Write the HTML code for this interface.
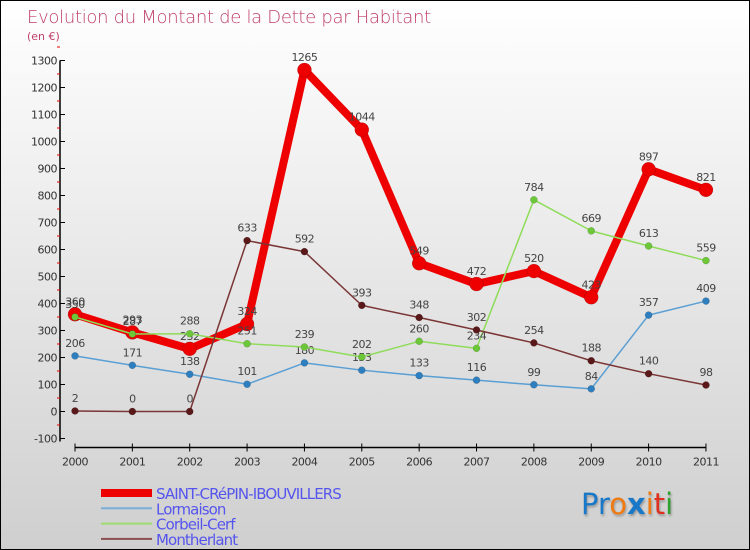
<!DOCTYPE html>
<html><head><meta charset="utf-8"><style>
body{margin:0;}
#wrap{width:748px;height:548px;border:1px solid #000;background:linear-gradient(#ffffff,#cfcfcf);position:relative;font-family:"DejaVu Sans","Liberation Sans",sans-serif;overflow:hidden}
</style></head><body>
<div id="wrap">
<svg id="chart" width="748" height="548" style="position:absolute;left:0;top:0">
<text x="26" y="22" font-size="18" fill="#c0406a" font-family="DejaVu Sans, sans-serif" font-weight="200" letter-spacing="-0.3">Evolution du Montant de la Dette par Habitant</text>
<text x="26" y="39" font-size="11" fill="#c0406a">(en €)</text>
<g id="axes"></g><g id="series"></g>
</svg>
<div style="position:absolute;left:580px;top:486px;font-size:29px;font-family:'DejaVu Sans',sans-serif;text-shadow:1px 2px 2px #999"><span style="color:#1a78c8">Pr</span><span style="color:#f07a10">o</span><span style="color:#1a78c8;font-weight:bold">x</span><span style="color:#f07a10">i</span><span style="color:#e03020">t</span><span style="color:#30a030">i</span></div>
</div>
<script>
const years=["2000","2001","2002","2003","2004","2005","2006","2007","2008","2009","2010","2011"];
const yTicks=[-100,0,100,200,300,400,500,600,700,800,900,1000,1100,1200,1300];
const seriesNames=["SAINT-CRéPIN-IBOUVILLERS","Lormaison","Corbeil-Cerf","Montherlant"];
const saintCrepin=[360,293,232,324,1265,1044,549,472,520,423,897,821];
const lormaison=[206,171,138,101,180,153,133,116,99,84,357,409];
const corbeil=[350,287,288,251,239,202,260,234,784,669,613,559];
const montherlant=[2,0,0,633,592,393,348,302,254,188,140,98];
const NS="http://www.w3.org/2000/svg";
const yS=v=>410.5-v*0.27;
const xS=i=>74+i*57.36;
function mk(tag,attrs,parent){const e=document.createElementNS(NS,tag);for(const k in attrs)e.setAttribute(k,attrs[k]);parent.appendChild(e);return e;}
const ax=document.getElementById('axes');
let l=mk('line',{x1:59,y1:yS(1300),x2:59,y2:yS(-100)+3,stroke:'#000','stroke-width':1.5},ax);


l=mk('line',{x1:xS(0),y1:yS(-100)+9,x2:xS(11),y2:yS(-100)+9,stroke:'#000','stroke-width':1.5},ax);


yTicks.forEach(v=>{
 mk('line',{x1:59,y1:yS(v),x2:64,y2:yS(v),stroke:'#000'},ax);
 mk('line',{x1:56,y1:yS(v+50),x2:59,y2:yS(v+50),stroke:'#e00'},ax);
 const t=mk('text',{x:56,y:yS(v)+4,'text-anchor':'end','font-size':11,fill:'#333','letter-spacing':'-0.5'},ax);
 t.textContent=v;
 
 
});
years.forEach((y,i)=>{
 mk('line',{x1:xS(i),y1:yS(-100)+5,x2:xS(i),y2:yS(-100)+13,stroke:'#000'},ax);
 const t=mk('text',{x:xS(i),y:yS(-100)+27,'text-anchor':'middle','font-size':11,fill:'#333','letter-spacing':'-0.5'},ax);
 t.textContent=y;
 
 
});
const sg=document.getElementById('series');
const defs=[[saintCrepin,'#ee0000','#ee0000',8,7,'saint-crepin'],[lormaison,'#5a9fd4','#2e7fc0',1.5,3.5,'lormaison'],[corbeil,'#8fdc5a','#6cc838',1.5,3.5,'corbeil-cerf'],[montherlant,'#7a3535','#5a1818',1.5,3.5,'montherlant']];
defs.forEach(([vals,lc,dc,w,r,name])=>{
 const g=mk('g',{},sg);
 
 
 const p=mk('polyline',{points:vals.map((v,i)=>xS(i)+','+yS(v)).join(' '),fill:'none',stroke:lc,'stroke-width':w,'stroke-linejoin':'round'},g);
 
 
 vals.forEach((v,i)=>{
  const c=mk('circle',{cx:xS(i),cy:yS(v),r:r,fill:dc,stroke:'rgba(0,0,0,0.25)','stroke-width':0.5},g);
  
  
  const t=mk('text',{x:xS(i),y:yS(v)-9,'text-anchor':'middle','font-size':11,fill:'#444','letter-spacing':'-0.5'},g);
  t.textContent=v;
  
  
 });
});
const lg=mk('g',{},document.getElementById('chart'));


const lcols=['#ee0000','#7aaed6','#9ddc70','#8a5050'];
seriesNames.forEach((n,i)=>{
 const y=492+i*15.3;
 mk('rect',{x:100,y:y-(i==0?4:1),width:51,height:(i==0?8:2),fill:lcols[i]},lg);
 const t=mk('text',{x:155,y:y+6,'font-size':15,fill:'#5555ee','letter-spacing':'-0.9'},lg);
 t.textContent=n;
 
 
});
</script>
</body></html>
